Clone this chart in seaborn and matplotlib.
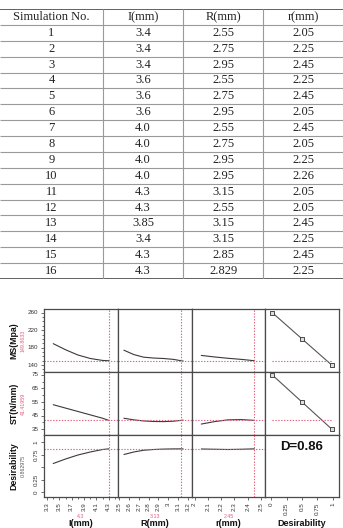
import numpy as np
import pandas as pd
import matplotlib
matplotlib.use("Agg")
import matplotlib.pyplot as plt
from matplotlib.ticker import FixedLocator, MultipleLocator
import seaborn as sns

# ---------------- data ----------------
headers = ["Simulation No.", "I(mm)", "R(mm)", "r(mm)"]
sim_no = [str(i) for i in range(1, 17)]
I_vals = ["3.4", "3.4", "3.4", "3.6", "3.6", "3.6", "4.0", "4.0", "4.0", "4.0",
          "4.3", "4.3", "3.85", "3.4", "4.3", "4.3"]
R_vals = ["2.55", "2.75", "2.95", "2.55", "2.75", "2.95", "2.55", "2.75", "2.95", "2.95",
          "3.15", "2.55", "3.15", "3.15", "2.85", "2.829"]
r_vals = ["2.05", "2.25", "2.45", "2.25", "2.45", "2.05", "2.45", "2.05", "2.25", "2.26",
          "2.05", "2.05", "2.45", "2.25", "2.45", "2.25"]

# profiler traces
I_grid = [3.4, 3.6, 3.8, 4.0, 4.2, 4.3]
MS_vs_I = [189, 175, 163, 155, 150.5, 149.86]
ST_vs_I = [53, 50.5, 48, 45.5, 43, 41.42]
D_vs_I = [0.57, 0.66, 0.74, 0.80, 0.85, 0.863]

R_grid = [2.55, 2.65, 2.75, 2.85, 2.95, 3.05, 3.13, 3.15]
MS_vs_R = [174, 164, 158, 156, 155, 153, 149.86, 149.3]
ST_vs_R = [43, 41.8, 41.0, 40.6, 40.5, 40.8, 41.42, 41.6]
D_vs_R = [0.75, 0.80, 0.835, 0.85, 0.858, 0.862, 0.863, 0.862]

r_grid = [2.05, 2.15, 2.25, 2.35, 2.45]
MS_vs_r = [162, 158.5, 155.5, 153, 149.86]
ST_vs_r = [38.7, 40.5, 41.8, 42.0, 41.42]
D_vs_r = [0.86, 0.855, 0.85, 0.855, 0.863]

des_x = [0.0183, 0.5, 0.9817]
MS_des = [260, 200, 140]
ST_des = [75, 55, 35]

current_x = [4.3, 3.13, 2.45]
current_x_lbl = ["4.3", "3.13", "2.45"]
current_y = [149.8633, 41.41959, 0.862975]
current_y_lbl = ["149.8633", "41.41959", "0.862975"]
row_names = ["MS(Mpa)", "ST(N/mm)", "Desirability"]
col_names = ["I(mm)", "R(mm)", "r(mm)", "Desirability"]
D_text = "D=0.86"

# ---------------- figure ----------------
sns.set_style("white")
plt.rcParams["font.family"] = ["Liberation Sans", "DejaVu Sans"]
W, H = 343, 528
fig = plt.figure(figsize=(W / 100, H / 100), dpi=100)


def ax_px(x0, y0, x1, y1):
    return fig.add_axes([x0 / W, 1 - y1 / H, (x1 - x0) / W, (y1 - y0) / H])


# ---------------- table ----------------
tab = ax_px(0, 9, 343, 279)
tab.set_xlim(0, 1)
tab.set_ylim(17, 0)
tab.axis("off")
col_edges = [0, 0.300, 0.534, 0.767, 1.0]
centers = [(col_edges[i] + col_edges[i + 1]) / 2 for i in range(4)]
columns = [sim_no, I_vals, R_vals, r_vals]
serif = ["Liberation Serif", "DejaVu Serif"]
for c in range(4):
    tab.text(centers[c], 0.5, headers[c], ha="center", va="center",
             fontsize=9, family=serif, color="#222222")
    for i, v in enumerate(columns[c]):
        tab.text(centers[c], i + 1.5, v, ha="center", va="center",
                 fontsize=9, family=serif, color="#222222")
tab.hlines(list(range(1, 17)), 0, 1, color="#9a9a9a", lw=0.8)
tab.hlines([0, 17], 0, 1, color="#555555", lw=1.3)
tab.vlines(col_edges[1:4], 0, 17, color="#9a9a9a", lw=0.8)

# ---------------- profiler ----------------
col_px = [(44, 118), (118, 192), (192, 265), (265, 339)]
row_px = [(309, 372), (372, 435), (435, 497)]
xlims = [(3.25, 4.45), (2.49, 3.24), (1.98, 2.53), (-0.1, 1.1)]
ylims = [(124, 268.5), (30.6, 77.2), (-0.1, 1.14)]
xmaj = [[3.3, 3.5, 3.7, 3.9, 4.1, 4.3],
        [2.5, 2.6, 2.7, 2.8, 2.9, 3.0, 3.1, 3.2],
        [2.0, 2.1, 2.2, 2.3, 2.4, 2.5],
        [0, 0.25, 0.5, 0.75, 1]]
xlbl = [["3.3", "3.5", "3.7", "3.9", "4.1", "4.3"],
        ["2.5", "2.6", "2.7", "2.8", "2.9", "3", "3.1", "3.2"],
        ["2", "2.1", "2.2", "2.3", "2.4", "2.5"],
        ["0", "0.25", "0.5", "0.75", "1"]]
xminor = [0.1, None, None, None]
ymaj = [[140, 180, 220, 260], [35, 45, 55, 65, 75], [0, 0.25, 0.5, 0.75, 1]]
ylbl = [["140", "180", "220", "260"], ["35", "45", "55", "65", "75"],
        ["0", "0.25", "", "0.75", "1"]]
yminor = [10, 5, None]

grids = [I_grid, R_grid, r_grid]
traces = [[MS_vs_I, MS_vs_R, MS_vs_r],
          [ST_vs_I, ST_vs_R, ST_vs_r],
          [D_vs_I, D_vs_R, D_vs_r]]
des_curves = [MS_des, ST_des]

RED = "#e0607f"
LINE = "#3a3a3a"
SPINE = "#4a4a4a"
dash = (0, (1.2, 1.4))

for r in range(3):
    for c in range(4):
        ax = ax_px(col_px[c][0], row_px[r][0], col_px[c][1], row_px[r][1])
        ax.set_facecolor("white")
        for s in ax.spines.values():
            s.set_color(SPINE)
            s.set_linewidth(0.9)
        if c < 3:
            sns.lineplot(x=grids[c], y=traces[r][c], ax=ax, color=LINE, lw=0.8,
                         sort=False)
            ax.axvline(current_x[c], color=RED, lw=0.8, ls=dash)
            ax.axhline(current_y[r], color=RED, lw=0.8, ls=dash)
        elif r < 2:
            sns.lineplot(x=des_x, y=des_curves[r], ax=ax, color="#555555", lw=0.8,
                         sort=False)
            sns.scatterplot(x=des_x, y=des_curves[r], ax=ax, marker="s", s=7,
                            facecolor="#dddddd", edgecolor="#333333", linewidth=0.6,
                            zorder=5)
            ax.axhline(current_y[r], xmin=0.1, xmax=0.9, color=RED, lw=0.8, ls=dash)
        else:
            ax.text(0.5, 0.8, D_text, transform=ax.transAxes, ha="center",
                    va="center", fontsize=9.5, fontweight="bold", color="#111111")
        ax.set_xlim(*xlims[c])
        ax.set_ylim(*ylims[r])
        ax.set_xlabel("")
        ax.set_ylabel("")
        if c == 0:
            ax.set_yticks(ymaj[r])
            ax.set_yticklabels(ylbl[r], fontsize=4.5, color="#333333",
                               rotation=90 if r == 2 else 0, va="center")
            if yminor[r]:
                ax.yaxis.set_minor_locator(MultipleLocator(yminor[r]))
            ax.tick_params(axis="y", which="both", direction="out", left=True,
                           length=2.5, width=0.6, color="#555555", pad=1.5)
            ax.tick_params(axis="y", which="minor", length=1.5)
        else:
            ax.set_yticks([])
        if r == 2:
            ax.set_xticks(xmaj[c])
            ax.set_xticklabels(xlbl[c], fontsize=4.5, color="#333333", rotation=90)
            if xminor[c]:
                ax.xaxis.set_minor_locator(MultipleLocator(xminor[c]))
            ax.tick_params(axis="x", which="both", direction="out", bottom=True,
                           length=2.5, width=0.6, color="#555555", pad=1.5)
            ax.tick_params(axis="x", which="minor", length=1.5)
        else:
            ax.set_xticks([])

# row labels
for r in range(3):
    yc = (row_px[r][0] + row_px[r][1]) / 2
    fig.text(14 / W, 1 - yc / H, row_names[r], rotation=90, ha="center", va="center",
             fontsize=6.3, fontweight="bold", color="#111111")
    fig.text(23 / W, 1 - yc / H, current_y_lbl[r], rotation=90, ha="center",
             va="center", fontsize=3.8, color=RED if r < 2 else "#555555")

# column labels
for c in range(4):
    xc = (col_px[c][0] + col_px[c][1]) / 2
    if c < 3:
        fig.text(xc / W, 1 - 516 / H, current_x_lbl[c], ha="center", va="center",
                 fontsize=3.8, color=RED)
    fig.text(xc / W, 1 - 524 / H, col_names[c], ha="center", va="center",
             fontsize=6.5, fontweight="bold", color="#111111")

fig.savefig("out.png", dpi=100)
